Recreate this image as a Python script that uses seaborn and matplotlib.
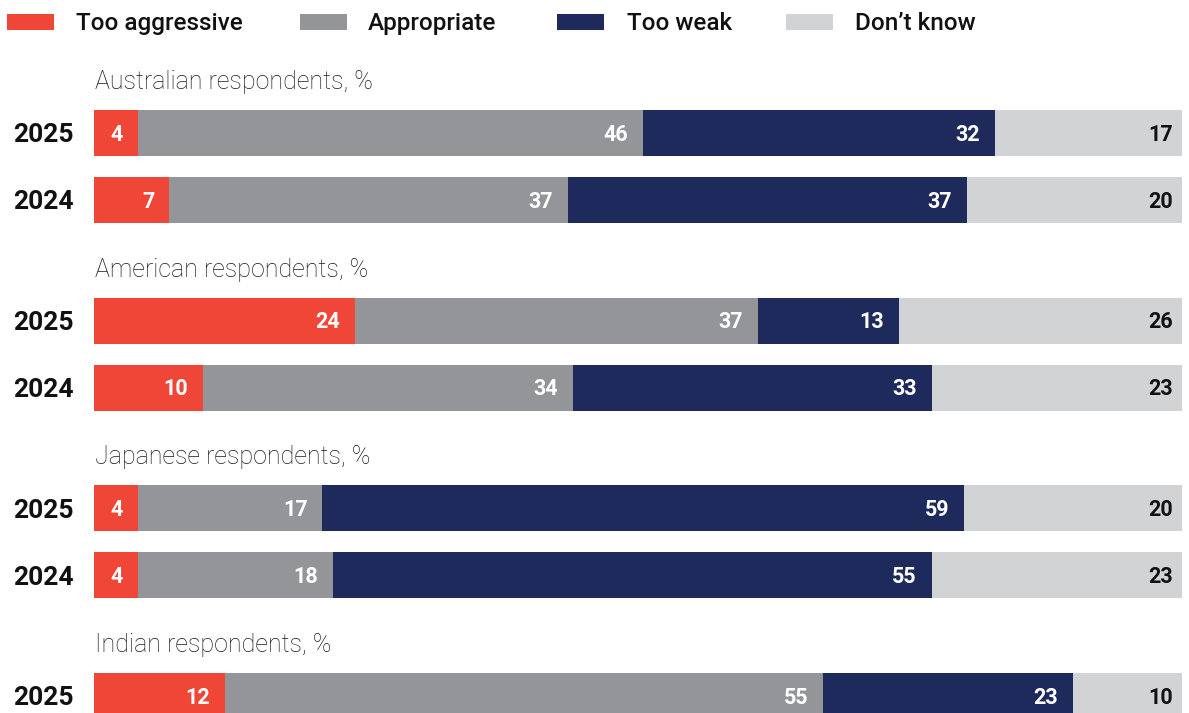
import matplotlib
matplotlib.use("Agg")
import matplotlib.pyplot as plt
from matplotlib.patches import Rectangle
import seaborn as sns
import pandas as pd
import numpy as np

# ---------------- data ----------------
group_titles = ["Australian respondents, %", "American respondents, %",
                "Japanese respondents, %", "Indian respondents, %"]
row_group = [0, 0, 1, 1, 2, 2, 3]
row_year = ["2025", "2024", "2025", "2024", "2025", "2024", "2025"]
categories = ["Too aggressive", "Appropriate", "Too weak", "Don\u2019t know"]
too_aggressive = [4, 7, 24, 10, 4, 4, 12]
appropriate = [46, 37, 37, 34, 17, 18, 55]
too_weak = [32, 37, 13, 33, 59, 55, 23]
dont_know = [17, 20, 26, 23, 20, 23, 10]

# ---------------- style ----------------
colors = ["#EF4638", "#939598", "#1F2A5C", "#D1D3D5"]
label_colors = ["white", "white", "white", "#111111"]

sns.set_theme(style="white")
plt.rcParams["font.family"] = ["Roboto", "DejaVu Sans"]

W, H = 1189, 713
fig = plt.figure(figsize=(W / 100, H / 100), dpi=100)
x0, x1 = 94, 1182
ax = fig.add_axes([x0 / W, 0, (x1 - x0) / W, 1])

# layout (pixel positions)
base, group_step, row_step, bar_h = 133, 187.7, 67, 46
within = []
seen = {}
for g in row_group:
    within.append(seen.get(g, 0))
    seen[g] = seen.get(g, 0) + 1
ypos = [base + g * group_step + i * row_step for g, i in zip(row_group, within)]

values = np.array([too_aggressive, appropriate, too_weak, dont_know], dtype=float)
totals = values.sum(axis=0)
shares = values / totals * 100
cum = np.cumsum(shares, axis=0)

df = pd.DataFrame({"y": ypos})
for k in range(4):
    df[f"c{k}"] = cum[k]

width = bar_h / row_step
for k in [3, 2, 1, 0]:
    sns.barplot(data=df, x=f"c{k}", y="y", orient="h", native_scale=True,
                color=colors[k], saturation=1, width=width, ax=ax,
                linewidth=0, edgecolor="none")

ax.set_xlim(0, 100)
ax.set_ylim(H, 0)
ax.axis("off")

px = 100 / (x1 - x0)  # data units per pixel

# value labels
val_fs = 15.5
val_cap = 0.711 * val_fs * 100 / 72
for r in range(len(ypos)):
    for k in range(4):
        pad = 15 if k < 3 else 9
        ax.text(cum[k][r] - pad * px, ypos[r] + val_cap / 2, f"{int(values[k][r])}",
                ha="right", va="baseline", fontsize=val_fs, fontweight="bold",
                color=label_colors[k])

# year labels
yr_fs = 19
yr_cap = 0.711 * yr_fs * 100 / 72
for r in range(len(ypos)):
    ax.text((74 - x0) * px, ypos[r] + yr_cap / 2, row_year[r], ha="right",
            va="baseline", fontsize=yr_fs, fontweight="bold", color="#111111",
            clip_on=False)

# group headers
for g, title in enumerate(group_titles):
    first = ypos[row_group.index(g)]
    ax.text(1 * px, first - 44, title, ha="left", va="baseline",
            fontsize=18, fontweight="light", color="#1a1a1a")

# legend
leg_patch_x = [7, 300, 557, 786]
leg_text_x = [76, 368, 627, 855]
for k in range(4):
    fig.add_artist(Rectangle((leg_patch_x[k] / W, 1 - 30 / H), 47 / W, 16 / H,
                             transform=fig.transFigure, facecolor=colors[k],
                             edgecolor="none"))
    fig.text(leg_text_x[k] / W, 1 - 30 / H, categories[k], ha="left",
             va="baseline", fontsize=17.5, fontweight="medium", color="#111111")

fig.savefig("out.png", dpi=100)
